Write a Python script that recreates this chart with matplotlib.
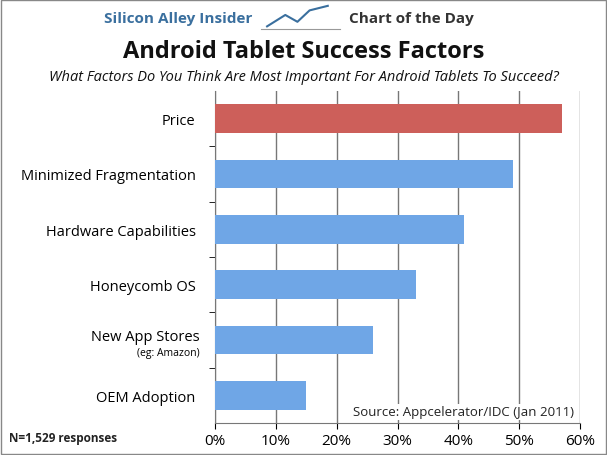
import matplotlib
matplotlib.use("Agg")
import matplotlib.pyplot as plt
import numpy as np

categories = ["Price", "Minimized Fragmentation", "Hardware Capabilities", "Honeycomb OS", "New App Stores", "OEM Adoption"]
values = [57, 49, 41, 33, 26, 15]
xticks = [0, 10, 20, 30, 40, 50, 60]
xticklabels = ["0%", "10%", "20%", "30%", "40%", "50%", "60%"]

W, H = 607, 456
fig = plt.figure(figsize=(W/100, H/100), dpi=100)
fig.patch.set_facecolor("white")
# border
fig.add_artist(plt.Rectangle((0.002, 0.002), 0.996, 0.996, transform=fig.transFigure, fill=False, ec="#888888", lw=1))
# header
fig.text(0.415, 0.958, "Silicon Alley Insider", ha="right", va="center", fontsize=11, color="#3a6f9e", fontweight="bold", family="Open Sans")
fig.text(0.575, 0.958, "Chart of the Day", ha="left", va="center", fontsize=11, color="#333333", fontweight="bold", family="Open Sans")
fig.add_artist(plt.Line2D([0.43, 0.56], [0.935, 0.935], transform=fig.transFigure, color="#999", lw=0.8))
fig.add_artist(plt.Line2D([0.44, 0.47, 0.49, 0.51, 0.54], [0.94, 0.965, 0.95, 0.975, 0.985], transform=fig.transFigure, color="#3a6f9e", lw=1.5))
fig.text(0.5, 0.885, "Android Tablet Success Factors", ha="center", va="center", fontsize=17, fontweight="bold", color="#111", family="Open Sans")
fig.text(0.5, 0.83, "What Factors Do You Think Are Most Important For Android Tablets To Succeed?", ha="center", va="center", fontsize=10.5, style="italic", color="#111", family="Open Sans")

ax = fig.add_axes([215/W, 1-424/H, (580-215)/W, (424-92)/H])
y = np.arange(len(categories))
colors = ["#cd5f5a"] + ["#6fa6e6"] * (len(categories)-1)
ax.barh(y, values, height=0.52, color=colors, zorder=3)
ax.set_ylim(len(categories)-0.5, -0.5)
ax.set_xlim(0, 60)
ax.set_xticks(xticks)
ax.set_xticklabels(xticklabels, fontsize=11, family="Open Sans")
ax.set_yticks(y)
labels = list(categories)
labels[4] = ""
ax.set_yticklabels(labels, fontsize=10.5, family="Open Sans")
ax.text(-2.5, 4 - 0.07, "New App Stores", ha="right", va="center", fontsize=10.5, family="Open Sans")
ax.text(-2.5, 4 + 0.22, "(eg: Amazon)", ha="right", va="center", fontsize=7.5, family="Open Sans")
ax.tick_params(axis="y", length=0, pad=14)
ax.set_yticks(np.arange(0.5, len(categories)-0.5), minor=True)
ax.tick_params(axis="y", which="minor", length=4, direction="out")
ax.tick_params(axis="x", length=4)
ax.grid(axis="x", color="#777", lw=1, zorder=0)
for s in ["top", "right"]:
    ax.spines[s].set_visible(False)
ax.spines["left"].set_color("#777")
ax.spines["bottom"].set_color("#777")
ax.text(59, 5.3, "Source: Appcelerator/IDC (Jan 2011)", ha="right", va="center", fontsize=9.5, family="Open Sans", color="#222",
        bbox=dict(fc="white", ec="none", pad=1), zorder=4)
fig.text(0.015, 0.03, "N=1,529 responses", fontsize=8.5, fontweight="bold", family="Open Sans", color="#222")
fig.savefig("out.png", dpi=100)
